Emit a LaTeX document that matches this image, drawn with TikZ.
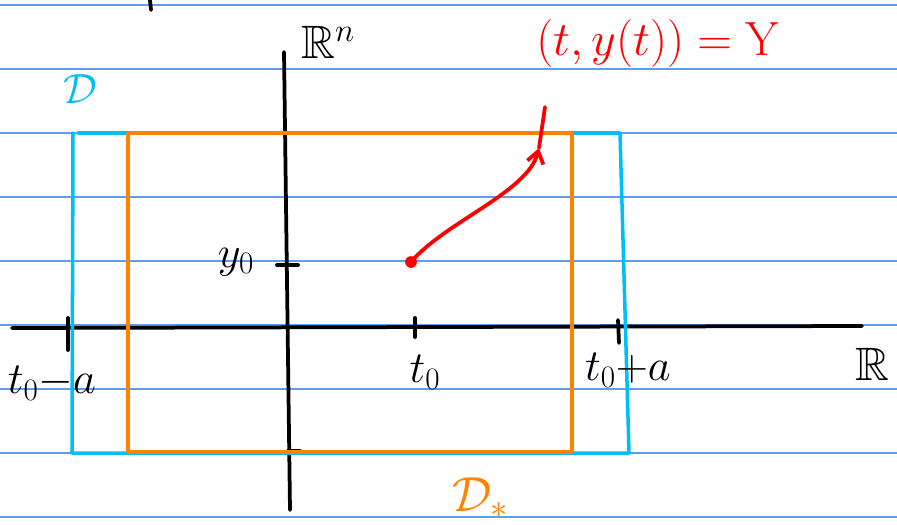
\RequirePackage{fix-cm}
\documentclass[tikz,border=0pt]{standalone}
\usepackage{amssymb}
\usetikzlibrary{arrows.meta}
\definecolor{ruleblue}{RGB}{90,160,240}
\definecolor{dblue}{RGB}{0,190,250}
\definecolor{dorange}{RGB}{255,130,0}
\definecolor{solred}{RGB}{255,0,0}
\begin{document}
\begin{tikzpicture}[x=0.03cm, y=-0.03cm, line cap=round, line join=round,
  ruled/.style={ruleblue, line width=1.4pt},
  axis/.style={black, line width=3.2pt},
  dom/.style={dblue, line width=3pt},
  domstar/.style={dorange, line width=3pt},
  sol/.style={solred, line width=3.2pt},
  lab/.style={font=\fontsize{38}{42}\selectfont, inner sep=0pt}]
  \useasboundingbox (0,0) rectangle (897,524);
  % ruled paper
  \foreach \k in {0,...,8}
    \draw[ruled] (0,{5.3+64*\k}) -- (897,{5.3+64*\k});
  \draw[axis] (150,0) -- (151,10);
  % axes
  \draw[axis] (12,328) -- (862,326);
  \draw[axis] (284,52) -- (290,510);
  \draw[axis] (68,318) -- (68,350);
  \draw[axis] (415,318) -- (415,337);
  \draw[axis] (618,320) -- (619,343);
  \draw[axis] (277,265) -- (298,265);
  \draw[axis] (278,133) -- (294,133);
  \draw[axis] (288,451) -- (300,451);
  % D and D_*
  \draw[dom] (78,133) -- (620,133) -- (629,453) -- (72,453) -- (73,133);
  \draw[domstar] (128,133) -- (572,133) -- (572,452) -- (128,452) -- cycle;
  % labels
  \node[lab, font=\fontsize{40}{44}\selectfont] (rn) at (328,42) {$\mathbb{R}^n$};
  \node[lab, anchor=west, font=\fontsize{40}{44}\selectfont] (r) at (855,364) {$\mathbb{R}$};
  \node[lab] (tma) at (52,383) {$t_0{-}a$};
  \node[lab] (t0) at (425,372) {$t_0$};
  \node[lab] (tpa) at (628,370) {$t_0{+}a$};
  \node[lab] (y0) at (236,262) {$y_0$};
  \node[lab, dblue, font=\fontsize{36}{40}\selectfont] (dlab) at (80,89) {$\mathcal{D}$};
  \node[lab, dorange, font=\fontsize{42}{46}\selectfont] (dstar) at (480,498) {$\mathcal{D}_*$};
  \node[lab, solred, font=\fontsize{41}{45}\selectfont] (sollab) at (658,43) {$(t,y(t))=\mathrm{Y}$};
  % solution curve
  \node[circle, fill=solred, inner sep=0pt, minimum size=10pt] (start) at (411,262) {};
  \coordinate (tip) at (539,148);
  \coordinate (top) at (545,107);
  \draw[sol, -{Straight Barb[length=10pt,width=14pt]}] (start.center) .. controls (445,222) and (528,192) .. (tip);
  \draw[sol] (tip) -- (top);
\end{tikzpicture}
\end{document}
